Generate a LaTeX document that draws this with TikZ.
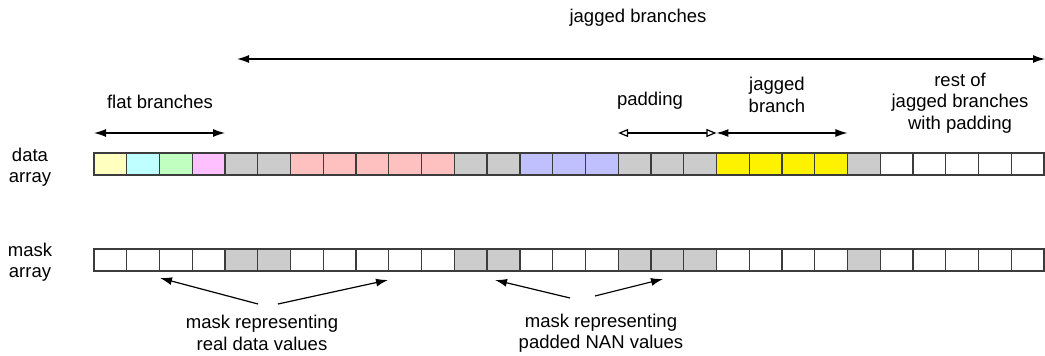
\documentclass[tikz,border=0pt]{standalone}
\usepackage{fontspec}
\setmainfont{Liberation Sans}
\usepackage{xcolor}
\usepackage{tikz}
\usetikzlibrary{arrows.meta, positioning, calc}
\definecolor{paleyellow}{RGB}{255,255,192}
\definecolor{palecyan}{RGB}{192,255,255}
\definecolor{palegreen}{RGB}{192,255,192}
\definecolor{palepink}{RGB}{255,192,255}
\definecolor{palered}{RGB}{255,192,192}
\definecolor{paleblue}{RGB}{192,192,255}
\definecolor{padgray}{RGB}{204,204,204}
\definecolor{cellline}{RGB}{60,60,60}
\tikzstyle{cell} = [rectangle, draw=cellline, line width=1.3pt, minimum width=32.76pt, minimum height=22pt, inner sep=0pt, outer sep=0pt]
\tikzstyle{txt} = [align=center, font=\fontsize{18.5}{21.5}\selectfont, inner sep=0pt]
\tikzstyle{arrow} = [line width=1.2pt, {Latex[length=12pt,width=8pt]}-{Latex[length=12pt,width=8pt]}]
\tikzstyle{padarrow} = [line width=1.2pt, {Triangle[open,length=10pt,width=8pt]}-{Triangle[open,length=10pt,width=8pt]}]
\tikzstyle{pointer} = [line width=1.2pt, -{Latex[length=12pt,width=8pt]}]

\begin{document}
\begin{tikzpicture}[x=1pt, y=-1pt]
    \useasboundingbox (0,0) rectangle (1045,356);

    % data array
    \foreach \c [count=\i] in {paleyellow,palecyan,palegreen,palepink,padgray,padgray,palered,palered,palered,palered,palered,padgray,padgray,paleblue,paleblue,paleblue,padgray,padgray,padgray,yellow,yellow,yellow,yellow,padgray,white,white,white,white,white}
        \node (d\i) [cell, fill=\c] at ({94+(\i-0.5)*32.76}, 164) {};

    % mask array
    \foreach \c [count=\i] in {white,white,white,white,padgray,padgray,white,white,white,white,white,padgray,padgray,white,white,white,padgray,padgray,padgray,white,white,white,white,padgray,white,white,white,white,white}
        \node (m\i) [cell, fill=\c, below=74pt of d\i] {};

    \node (datalbl) [txt] at (30,167) {data\\array};
    \node (masklbl) [txt] at (30,262) {mask\\array};

    % labels above
    \node (jaggedlbl) [txt] at (638,18) {jagged branches};
    \node (flatlbl) [txt] at (160,102) {flat branches};
    \node (padlbl) [txt] at (650,101) {padding};
    \node (branchlbl) [txt] at (777,95) {jagged\\branch};
    \node (restlbl) [txt] at (960,103) {rest of\\jagged branches\\with padding};

    \coordinate (jl) at (237,59);
    \coordinate (jr) at (1045,59);
    \draw [arrow] (jl) -- (jr);

    \coordinate (fl) at (d1.west |- 0,133);
    \coordinate (fr) at (d4.east |- 0,133);
    \draw [arrow] (fl) -- (fr);

    \coordinate (pl) at (d17.west |- 0,133);
    \coordinate (pr) at (d19.east |- 0,133);
    \draw [padarrow] (pl) -- (pr);

    \coordinate (bl) at (d20.west |- 0,133);
    \coordinate (br) at (d23.east |- 0,133);
    \draw [arrow] (bl) -- (br);

    % labels below
    \node (reallbl) [txt] at (262,333) {mask representing\\real data values};
    \node (nanlbl) [txt] at (601,333) {mask representing\\padded NAN values};

    \coordinate (r1) at (258,304);
    \coordinate (r2) at (278,304);
    \coordinate (rt1) at (160,278);
    \coordinate (rt2) at (388,280);
    \draw [pointer] (r1) -- (rt1);
    \draw [pointer] (r2) -- (rt2);

    \coordinate (n1) at (570,298);
    \coordinate (n2) at (595,296);
    \coordinate (nt1) at (495,280);
    \coordinate (nt2) at (663,279);
    \draw [pointer] (n1) -- (nt1);
    \draw [pointer] (n2) -- (nt2);

\end{tikzpicture}
\end{document}
